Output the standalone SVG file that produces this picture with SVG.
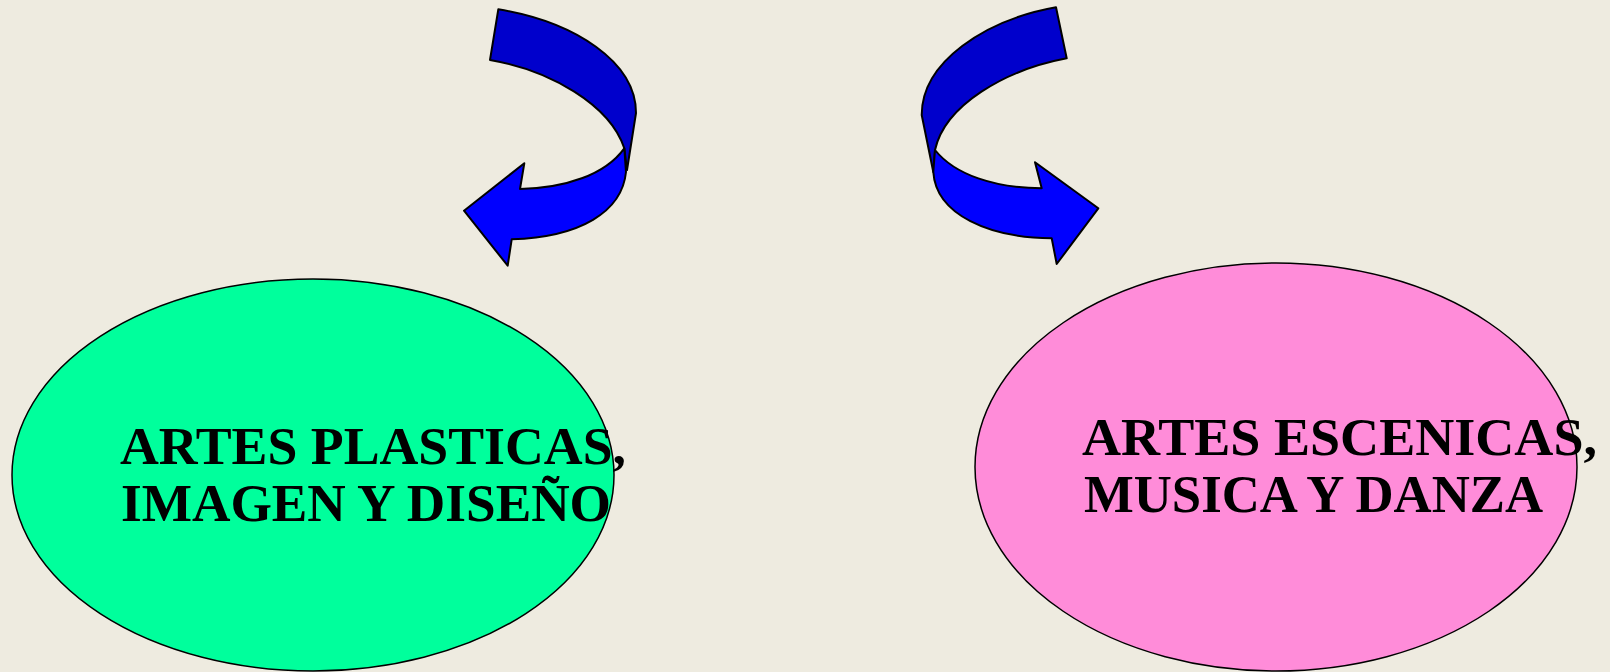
<svg xmlns="http://www.w3.org/2000/svg" width="1610" height="672" viewBox="0 0 1610 672">
<style>
.bg{fill:#EEEBE0}
.node ellipse{stroke:#000;stroke-width:1.5}
.lbl{font-family:"Liberation Serif","Times New Roman",serif;font-weight:bold;font-size:53px;fill:#000}
.dark{fill:#0000CC;stroke:#000;stroke-width:2;stroke-linejoin:round}
.light{fill:#0000FF;stroke:#000;stroke-width:2;stroke-linejoin:round}
</style>
<rect class="bg" x="0" y="0" width="1610" height="672"/>
<g id="connectors">
  <g id="arrow-left">
    <path class="dark" d="M498.3,9.3 C575,22 636,62 636,113 L627,170 L624.3,148.3 C610,105 550,70 490,60 Z"/>
    <path class="light" d="M624.3,148.3 C605,175 565,188 520,189 L524.3,163.3 L464,210.7 L507.7,265.7 L511.7,239.3 C580,237 622,212 626,172 Z"/>
  </g>
  <g id="arrow-right">
    <path class="dark" d="M1056,7.3 C985,20 921.7,62 921.7,115 L933.3,172 L935,150 C945,105 1005,70 1066.7,58.3 Z"/>
    <path class="light" d="M935,150 C955,175 995,188 1041.7,188.3 L1035,162.3 L1098.3,208.3 L1056.7,264 L1051.7,238.3 C990,238 936,215 933.3,172 Z"/>
  </g>
</g>
<g id="node-plasticas" class="node">
  <ellipse cx="313" cy="475" rx="301" ry="196" fill="#00FF9C"/>
  <text class="lbl" x="120" y="464" textLength="506" lengthAdjust="spacingAndGlyphs">ARTES PLASTICAS,</text>
  <text class="lbl" x="121" y="521" textLength="490" lengthAdjust="spacingAndGlyphs">IMAGEN Y DISEÑO</text>
</g>
<g id="node-escenicas" class="node">
  <ellipse cx="1276" cy="467" rx="301" ry="204" fill="#FF8CD9"/>
  <text class="lbl" x="1082" y="455" textLength="515" lengthAdjust="spacingAndGlyphs">ARTES ESCENICAS,</text>
  <text class="lbl" x="1084" y="512" textLength="459" lengthAdjust="spacingAndGlyphs">MUSICA Y DANZA</text>
</g>
</svg>
